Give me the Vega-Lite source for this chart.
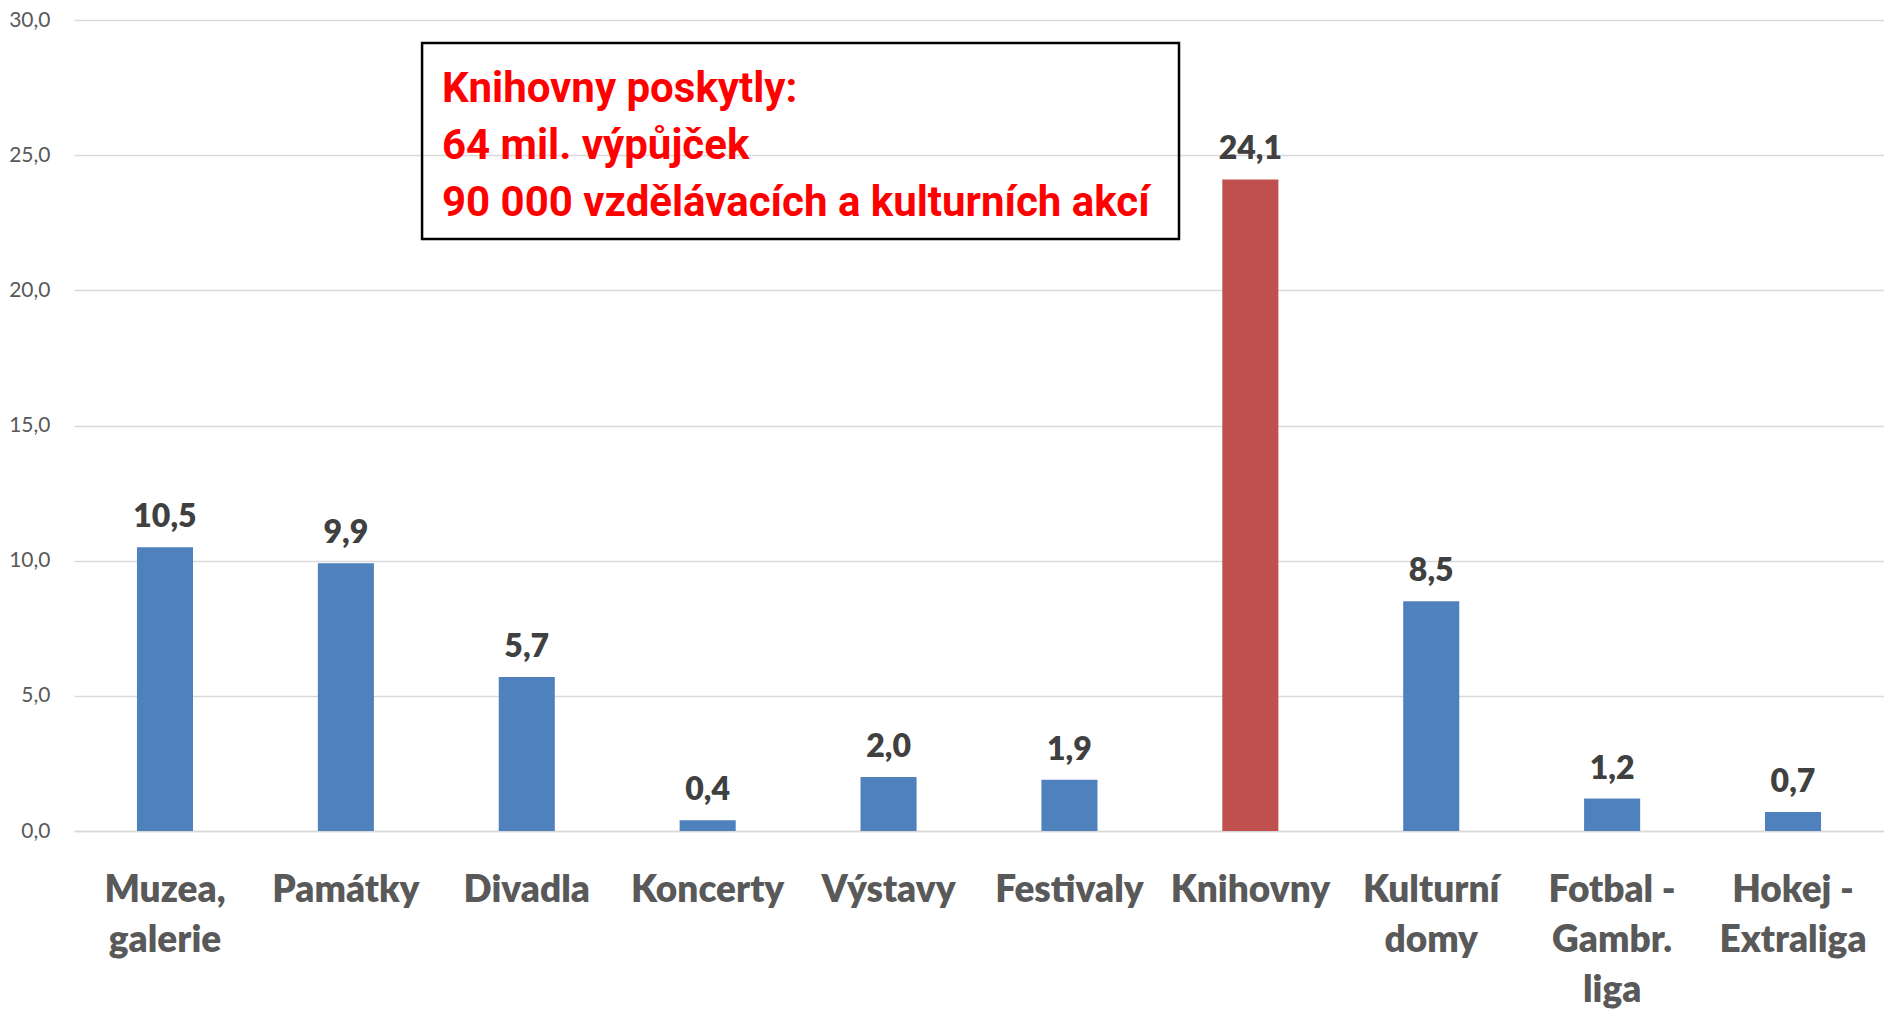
{
  "$schema": "https://vega.github.io/schema/vega-lite/v6.json",
  "width": 1810,
  "height": 811,
  "autosize": {"type": "none"},
  "padding": {"left": 74, "top": 20, "right": 0, "bottom": 180},
  "background": "white",
  "config": {
    "view": {"stroke": null},
    "locale": {"number": {"decimal": ",", "thousands": " ", "grouping": [3], "currency": ["", " Kč"]}}
  },
  "layer": [
    {
      "data": {
        "values": [
          {"kategorie": "Muzea, galerie", "hodnota": 10.5},
          {"kategorie": "Památky", "hodnota": 9.9},
          {"kategorie": "Divadla", "hodnota": 5.7},
          {"kategorie": "Koncerty", "hodnota": 0.4},
          {"kategorie": "Výstavy", "hodnota": 2.0},
          {"kategorie": "Festivaly", "hodnota": 1.9},
          {"kategorie": "Knihovny", "hodnota": 24.1},
          {"kategorie": "Kulturní domy", "hodnota": 8.5},
          {"kategorie": "Fotbal - Gambr. liga", "hodnota": 1.2},
          {"kategorie": "Hokej - Extraliga", "hodnota": 0.7}
        ]
      },
      "encoding": {
        "x": {
          "field": "kategorie", "type": "nominal", "sort": null,
          "scale": {"paddingInner": 0.69, "paddingOuter": 0.348},
          "axis": {
            "title": null, "domain": true, "domainColor": "#d9d9d9", "domainWidth": 1.5,
            "ticks": false, "tickSize": 0, "labelAngle": 0,
            "labelFont": "Lato", "labelFontWeight": 800, "labelFontSize": 37,
            "labelColor": "#595959", "labelPadding": 41, "labelLineHeight": 50, "labelLimit": 400,
            "labelExpr": "split(replace(datum.value, ' - ', '\u00a0- '), ' ')"
          }
        },
        "y": {
          "field": "hodnota", "type": "quantitative",
          "scale": {"domain": [0, 30]},
          "axis": {
            "values": [0, 5, 10, 15, 20, 25, 30], "format": ".1f", "title": null,
            "domain": false, "ticks": false, "tickSize": 0, "labelPadding": 24,
            "labelFont": "Lato", "labelFontSize": 21, "labelColor": "#595959",
            "gridColor": "#d9d9d9", "gridWidth": 1.5
          }
        }
      },
      "layer": [
        {
          "mark": {"type": "bar"},
          "encoding": {
            "color": {"condition": {"test": "datum.kategorie === 'Knihovny'", "value": "#C0504D"}, "value": "#4F81BD"}
          }
        },
        {
          "mark": {"type": "text", "dy": -20, "baseline": "alphabetic", "font": "Lato", "fontWeight": 800, "fontSize": 32, "color": "#404040"},
          "encoding": {"text": {"field": "hodnota", "type": "quantitative", "format": ".1f"}}
        }
      ]
    },
    {
      "data": {"values": [{"popis": "Knihovny poskytly:\n64 mil. výpůjček\n90 000 vzdělávacích a kulturních akcí"}]},
      "layer": [
        {
          "mark": {"type": "rect", "fill": "transparent", "stroke": "#000000", "strokeWidth": 2.5},
          "encoding": {
            "x": {"datum": 1.923, "type": "quantitative", "scale": {"domain": [0, 10]}, "axis": null},
            "x2": {"datum": 6.105},
            "y": {"datum": 29.15, "type": "quantitative"},
            "y2": {"datum": 21.9}
          }
        },
        {
          "mark": {"type": "text", "align": "left", "baseline": "alphabetic", "lineBreak": "\n", "lineHeight": 57,
                   "font": "Roboto", "fontWeight": "bold", "fontSize": 42, "color": "#FF0000"},
          "encoding": {
            "x": {"datum": 2.033, "type": "quantitative", "scale": {"domain": [0, 10]}, "axis": null},
            "y": {"datum": 26.97, "type": "quantitative"},
            "text": {"field": "popis", "type": "nominal"}
          }
        }
      ]
    }
  ],
  "resolve": {"scale": {"x": "independent"}}
}
